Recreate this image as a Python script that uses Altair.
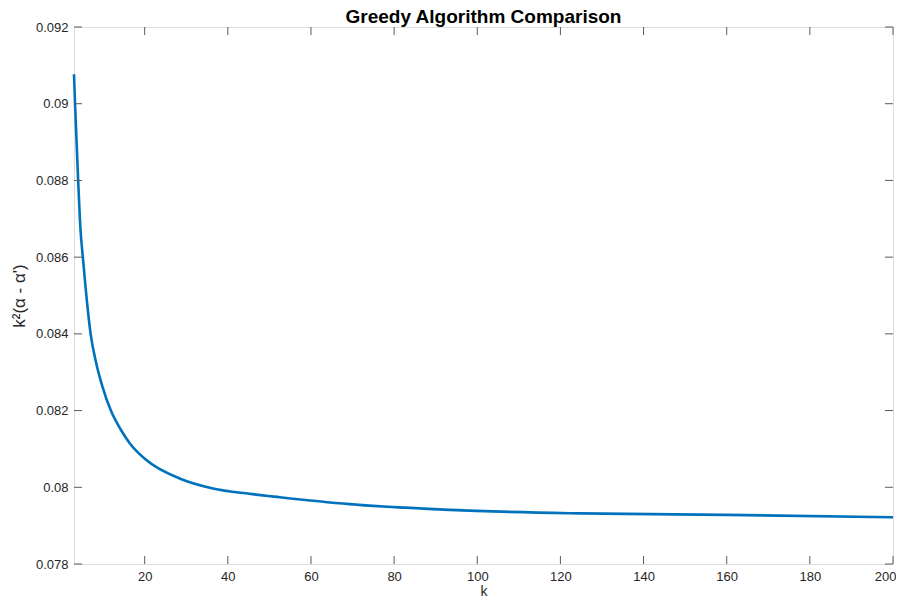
import altair as alt
import pandas as pd

# Values
k_values = [3.0, 3.25, 4.0, 4.57, 5.13, 6.25, 7.0, 8.25, 9.86, 11.87, 14.27, 16.4,
            20.4, 28.4, 36.4, 45.2, 52.5, 69.3, 93.4, 124.6, 159.9, 200.0]
y_values = [0.09077, 0.0900, 0.0880, 0.08671, 0.0860, 0.0847, 0.0840, 0.08328,
            0.08262, 0.0820, 0.0815, 0.08115, 0.08071, 0.08023, 0.07997, 0.07983,
            0.07974, 0.07956, 0.07941, 0.07932, 0.07928, 0.07922]

x_ticks = [20, 40, 60, 80, 100, 120, 140, 160, 180, 200]
y_ticks = [0.078, 0.080, 0.082, 0.084, 0.086, 0.088, 0.090, 0.092]
x_domain = [3, 200]
y_domain = [0.078, 0.092]

title_text = "Greedy Algorithm Comparison"
x_title = "k"
y_title = "k²(α - α')"

W, H = 819, 537
TICK = 8
FONT = "Liberation Sans"
TXT = "#262626"
FRAME = "#5a5a5a"

df = pd.DataFrame({"k": k_values, "v": y_values})
xt = pd.DataFrame({"t": x_ticks})
yt = pd.DataFrame({"t": y_ticks})

xs = alt.Scale(domain=x_domain, nice=False, zero=False)
ys = alt.Scale(domain=y_domain, nice=False, zero=False)

line = alt.Chart(df).mark_line(color="#0072BD", strokeWidth=2.6, interpolate="monotone").encode(
    x=alt.X("k:Q", scale=xs,
            axis=alt.Axis(values=x_ticks, ticks=False, domain=False, grid=False,
                          labelPadding=6, labelFontSize=13, labelFont=FONT, labelColor=TXT,
                          labelFlush=True, labelFlushOffset=3,
                          title=x_title, titleFont=FONT, titleFontSize=14, titleFontWeight="normal",
                          titleColor=TXT, titleX=W / 2, titleY=31, titleBaseline="alphabetic",
                          titleAlign="center")),
    y=alt.Y("v:Q", scale=ys,
            axis=alt.Axis(values=y_ticks, format=".3~f", ticks=False, domain=False, grid=False,
                          labelPadding=6, labelFontSize=13, labelFont=FONT, labelColor=TXT,
                          labelFlush=False,
                          title=y_title, titleFont=FONT, titleFontSize=17, titleFontWeight="normal",
                          titleColor=TXT, titleX=-55, titleY=H / 2, titleAngle=-90,
                          titleAlign="center", titleBaseline="middle")),
)

left_ticks = alt.Chart(yt).mark_rule(color=FRAME, strokeWidth=1).encode(
    y=alt.Y("t:Q", scale=ys), x=alt.value(0), x2=alt.value(TICK))
right_ticks = alt.Chart(yt).mark_rule(color=FRAME, strokeWidth=1).encode(
    y=alt.Y("t:Q", scale=ys), x=alt.value(W - TICK), x2=alt.value(W))
bottom_ticks = alt.Chart(xt).mark_rule(color=FRAME, strokeWidth=1).encode(
    x=alt.X("t:Q", scale=xs), y=alt.value(H), y2=alt.value(H - TICK))
top_ticks = alt.Chart(xt).mark_rule(color=FRAME, strokeWidth=1).encode(
    x=alt.X("t:Q", scale=xs), y=alt.value(0), y2=alt.value(TICK))

title = alt.Chart(pd.DataFrame({"t": [title_text]})).mark_text(
    font=FONT, fontSize=19, fontWeight="bold", color="#000000",
    align="center", baseline="alphabetic").encode(
    text="t:N", x=alt.value(W / 2), y=alt.value(-4))

chart = alt.layer(line, left_ticks, right_ticks, bottom_ticks, top_ticks, title).properties(
    width=W, height=H,
    autosize=alt.AutoSizeParams(type="none"),
    padding={"left": 66, "top": 19, "right": 3, "bottom": 32},
).configure_view(stroke=FRAME, strokeWidth=1).configure(background="white")

chart.save("out.html", embed_options={"renderer": "svg", "actions": False})
